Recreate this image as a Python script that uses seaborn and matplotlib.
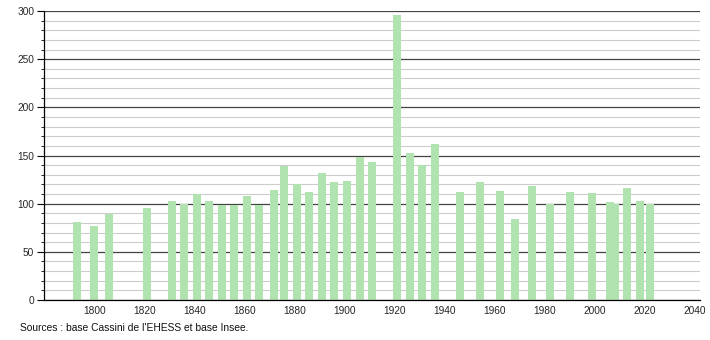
import matplotlib
matplotlib.use("Agg")
import matplotlib.pyplot as plt
from matplotlib.ticker import MultipleLocator
import seaborn as sns
import pandas as pd

years = [1793, 1800, 1806, 1821, 1831, 1836, 1841, 1846, 1851, 1856,
         1861, 1866, 1872, 1876, 1881, 1886, 1891, 1896, 1901, 1906,
         1911, 1921, 1926, 1931, 1936, 1946, 1954, 1962, 1968, 1975,
         1982, 1990, 1999, 2006, 2008, 2013, 2018, 2022]
population = [81, 77, 89, 96, 103, 100, 110, 103, 99, 99,
              108, 99, 114, 139, 120, 112, 132, 122, 124, 148,
              143, 296, 153, 140, 162, 112, 122, 113, 84, 118,
              100, 112, 111, 102, 100, 116, 103, 100]
x_ticks = [1800, 1820, 1840, 1860, 1880, 1900, 1920, 1940, 1960, 1980, 2000, 2020, 2040]
source_text = "Sources : base Cassini de l'EHESS et base Insee."

df = pd.DataFrame({"year": years, "pop": population})

sns.set_style("white")
plt.rcParams['font.family'] = ['Liberation Sans', 'DejaVu Sans']

fig = plt.figure(figsize=(7.1, 3.4), dpi=100)
ax = fig.add_axes([0.062, 0.1176, 0.924, 0.85])

ax.set_axisbelow(True)
sns.barplot(data=df, x="year", y="pop", native_scale=True, width=1.6,
            color="#b0e3b0", saturation=1, ax=ax, linewidth=0, errorbar=None)

ax.set_xlim(1780, 2042)
ax.set_ylim(0, 300)
ax.set_xticks(x_ticks)
ax.set_xticklabels([str(t) for t in x_ticks])
ax.yaxis.set_major_locator(MultipleLocator(50))
ax.yaxis.set_minor_locator(MultipleLocator(10))
ax.grid(which="major", axis="y", color="#444444", linewidth=0.9)
ax.grid(which="minor", axis="y", color="#cccccc", linewidth=0.8)
ax.grid(which="major", axis="x", visible=False)

for s in ["top", "right"]:
    ax.spines[s].set_visible(False)
for s in ["left", "bottom"]:
    ax.spines[s].set_color("#000000")
    ax.spines[s].set_linewidth(0.9)

ax.tick_params(axis="y", which="major", length=5, width=0.8, color="#000000", labelsize=7.3, pad=2, left=True)
ax.tick_params(axis="y", which="minor", length=2, width=0.6, color="#000000", left=True)
ax.tick_params(axis="x", which="major", length=0, labelsize=7.3, pad=4)
ax.set_xlabel("")
ax.set_ylabel("")

fig.text(0.028, 0.035, source_text, fontsize=7.4, ha="left", va="center", color="#111111")

fig.savefig("out.png", dpi=100)
